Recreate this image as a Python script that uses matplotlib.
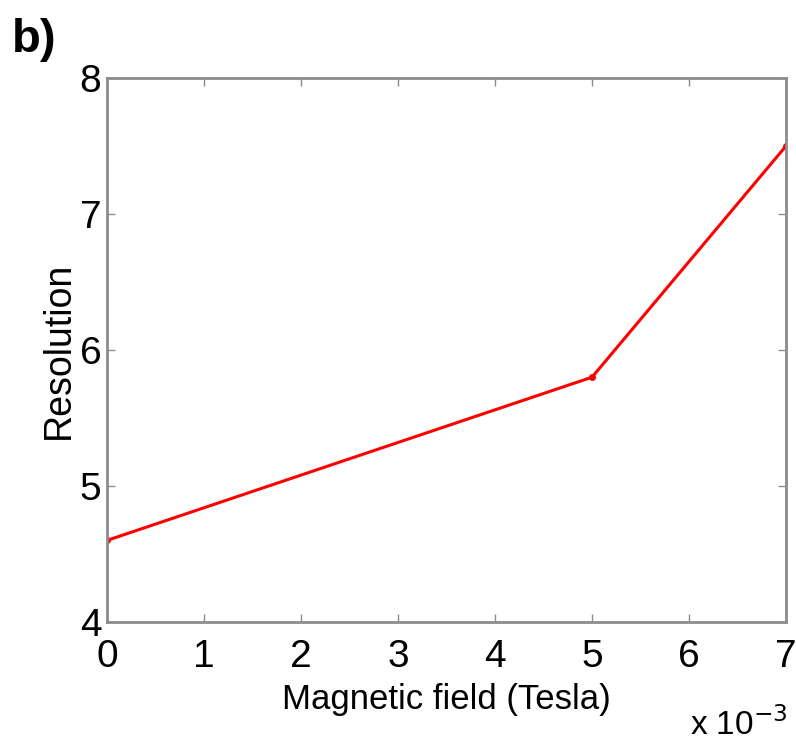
import matplotlib.pyplot as plt

# Dados
field_tesla = [0.0, 0.005, 0.007]
resolution = [4.6, 5.8, 7.5]
x_ticks = [0, 1, 2, 3, 4, 5, 6, 7]
y_ticks = [4, 5, 6, 7, 8]

plt.rcParams['font.family'] = ['Liberation Sans', 'DejaVu Sans']

fig = plt.figure(figsize=(7.96, 7.44), dpi=100)
ax = fig.add_axes([107 / 796, 1 - 622 / 744, (786 - 107) / 796, (622 - 78) / 744])

ax.plot(field_tesla, resolution, color='red', lw=2.2, marker='.', ms=8)

ax.set_xlim(0, 0.007)
ax.set_ylim(4, 8)
ax.set_xticks([t * 1e-3 for t in x_ticks])
ax.set_xticklabels([str(t) for t in x_ticks])
ax.set_yticks(y_ticks)
ax.set_yticklabels([str(t) for t in y_ticks])

for s in ax.spines.values():
    s.set_color('#8c8c8c')
    s.set_linewidth(2)
ax.tick_params(direction='in', length=6, width=1, color='#8c8c8c',
               top=True, right=True, labelsize=28)
ax.tick_params(axis='x', pad=12)
ax.tick_params(axis='y', pad=4)

ax.set_xlabel('Magnetic field (Tesla)', fontsize=25, labelpad=6)
ax.set_ylabel('Resolution', fontsize=27, labelpad=2)

fig.text(788 / 796, 1 - 742 / 744, r'x 10$^{-3}$', fontsize=24, va='bottom', ha='right')
fig.text(12 / 796, 1 - 62 / 744, 'b)', fontsize=34, fontweight='bold',
         va='bottom', ha='left')

fig.savefig('out.png', dpi=100)
